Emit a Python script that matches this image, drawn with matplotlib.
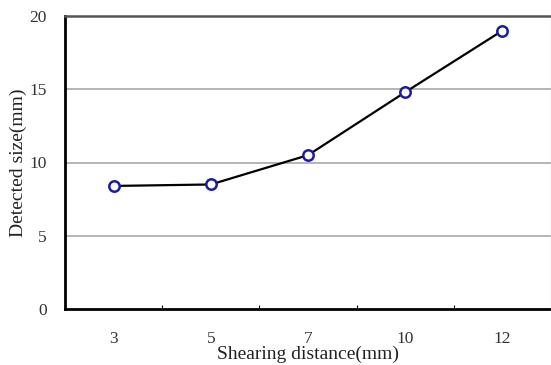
import matplotlib
matplotlib.use("Agg")
import matplotlib.pyplot as plt
from matplotlib.ticker import FixedLocator

categories = ["3", "5", "7", "10", "12"]
detected = [8.4, 8.5, 10.5, 14.8, 19.0]
yticks = [0, 5, 10, 15, 20]

plt.rcParams['font.family'] = ['Liberation Serif', 'DejaVu Serif']

fig = plt.figure(figsize=(5.51, 3.65), dpi=100)
ax = fig.add_axes([65/551, 1 - 309/365, (551 - 65)/551, (309 - 16)/365])

x = list(range(len(categories)))
ax.plot(x, detected, color='black', lw=1.6, marker='o', markersize=7.5,
        markerfacecolor='white', markeredgecolor='#1c1ca0', markeredgewidth=1.8,
        zorder=3)

ax.set_xlim(-0.5, len(categories) - 0.5)
ax.set_ylim(0, 20)
ax.set_yticks(yticks)
ax.set_xticks(x)
ax.set_xticklabels(categories)
ax.xaxis.set_minor_locator(FixedLocator([i + 0.5 for i in range(len(categories) - 1)]))
ax.tick_params(axis='x', which='major', length=0, pad=16, labelsize=12.5, labelcolor='#333333')
ax.tick_params(axis='x', which='minor', length=3, direction='in', width=0.8)
ax.tick_params(axis='y', length=0, pad=13, labelsize=12.5, labelcolor='#333333')

for yv in yticks[1:-1]:
    ax.axhline(yv, color='#a8a8a8', lw=1.2, zorder=1)

ax.spines['left'].set_linewidth(2.0)
ax.spines['bottom'].set_linewidth(2.0)
ax.spines['top'].set_linewidth(1.8)
ax.spines['top'].set_color('#555555')
ax.spines['right'].set_linewidth(1.0)
ax.spines['right'].set_color('#cccccc')

ax.set_xlabel("Shearing distance(mm)", fontsize=14, labelpad=-1, color='#222222')
ax.set_ylabel("Detected size(mm)", fontsize=14, labelpad=2, color='#222222')

fig.savefig("out.png", dpi=100)
